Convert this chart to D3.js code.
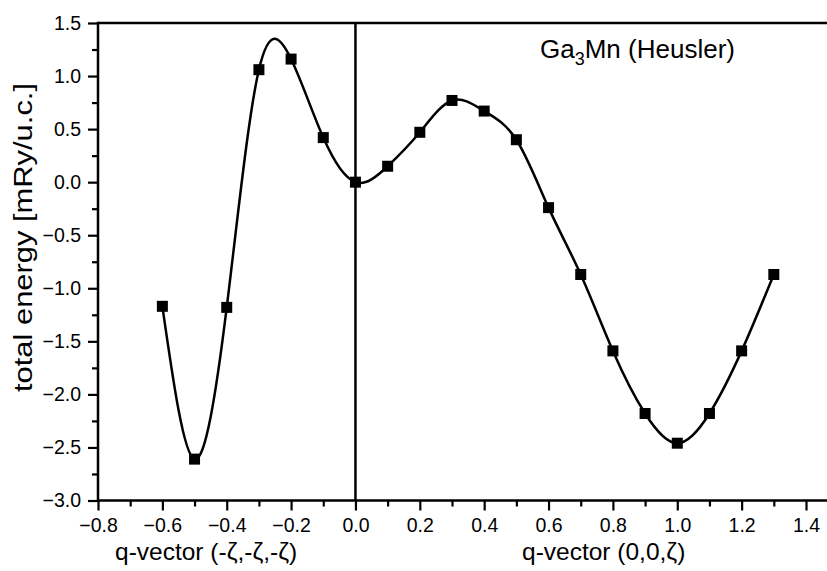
<!DOCTYPE html>
<html><head><meta charset="utf-8">
<script src="https://cdn.jsdelivr.net/npm/d3@7"></script>
<style>body{margin:0;background:#fff}svg{display:block}text{font-family:"Liberation Sans",Arial,sans-serif;fill:#000}</style>
</head><body>
<svg id="c" width="827" height="571"></svg>
<script>
const qValues = [-0.6,-0.5,-0.4,-0.3,-0.2,-0.1,0.0,0.1,0.2,0.3,0.4,0.5,0.6,0.7,0.8,0.9,1.0,1.1,1.2,1.3];
const energyValues = [-1.17,-2.61,-1.18,1.06,1.16,0.42,0.0,0.15,0.47,0.77,0.67,0.40,-0.24,-0.87,-1.59,-2.18,-2.46,-2.18,-1.59,-0.87];
const xTicks = [-0.8,-0.6,-0.4,-0.2,0.0,0.2,0.4,0.6,0.8,1.0,1.2,1.4];
const yTicks = [-3.0,-2.5,-2.0,-1.5,-1.0,-0.5,0.0,0.5,1.0,1.5];

const svg = d3.select("#c");
const L = 98, T = 23, B = 500.5;
const x = d3.scaleLinear().domain([-0.8, 1.4]).range([L, 806]);
const y = d3.scaleLinear().domain([-3.0, 1.5]).range([B, T]);
const xEnd = 827;
const FF = "Liberation Sans, Arial, sans-serif";

const g = svg.append("g");
const xMinor = d3.range(-0.7, 1.45, 0.2).map(v => +v.toFixed(2));
const yMinor = d3.range(-2.75, 1.5, 0.5).map(v => +v.toFixed(2));

const xAxis = d3.axisBottom(x).tickValues(xTicks).tickFormat(d3.format(".1f")).tickSize(10).tickPadding(8);
const xa = g.append("g").attr("transform", `translate(0,${B})`).call(xAxis);
xa.select(".domain").remove();
xa.selectAll("line").attr("stroke","#000").attr("stroke-width",2.2);
xa.selectAll("text").attr("font-size",19.5).attr("font-family",FF).attr("fill","#000");
const xm = g.append("g").attr("transform", `translate(0,${B})`).call(d3.axisBottom(x).tickValues(xMinor).tickSize(6).tickFormat(""));
xm.select(".domain").remove();
xm.selectAll("line").attr("stroke","#000").attr("stroke-width",2.2);

const yAxis = d3.axisLeft(y).tickValues(yTicks).tickFormat(d3.format(".1f")).tickSize(10).tickPadding(7);
const ya = g.append("g").attr("transform", `translate(${L},0)`).call(yAxis);
ya.select(".domain").remove();
ya.selectAll("line").attr("stroke","#000").attr("stroke-width",2.2);
ya.selectAll("text").attr("font-size",19.5).attr("font-family",FF).attr("fill","#000");
const ym = g.append("g").attr("transform", `translate(${L},0)`).call(d3.axisLeft(y).tickValues(yMinor).tickSize(6).tickFormat(""));
ym.select(".domain").remove();
ym.selectAll("line").attr("stroke","#000").attr("stroke-width",2.2);

g.append("line").attr("x1",L).attr("x2",xEnd).attr("y1",B).attr("y2",B).attr("stroke","#000").attr("stroke-width",2.5);
g.append("line").attr("x1",L).attr("x2",xEnd).attr("y1",T).attr("y2",T).attr("stroke","#000").attr("stroke-width",2.5);
g.append("line").attr("x1",L).attr("x2",L).attr("y1",T-1.2).attr("y2",B+1.2).attr("stroke","#000").attr("stroke-width",2.5);
g.append("line").attr("x1",x(0)).attr("x2",x(0)).attr("y1",T).attr("y2",B).attr("stroke","#000").attr("stroke-width",2.5);

const pts = qValues.map((q,i)=>[q, energyValues[i]]);
const line = d3.line().x(d=>x(d[0])).y(d=>y(d[1])).curve(d3.curveNatural);
g.append("path").attr("d", line(pts)).attr("fill","none").attr("stroke","#000").attr("stroke-width",2.5);

g.selectAll("rect.pt").data(pts).enter().append("rect").attr("class","pt")
  .attr("x", d=>x(d[0])-5.5).attr("y", d=>y(d[1])-5.5).attr("width",11).attr("height",11).attr("fill","#000");

svg.append("text").attr("transform","translate(32,237.5) rotate(-90)").attr("text-anchor","middle")
  .attr("font-size",25).attr("textLength",309).attr("lengthAdjust","spacingAndGlyphs").text("total energy [mRy/u.c.]");
svg.append("text").attr("x",115).attr("y",560).attr("font-size",24.5).text("q-vector (-ζ,-ζ,-ζ)");
svg.append("text").attr("x",522).attr("y",560).attr("font-size",24.5).text("q-vector (0,0,ζ)");
const t = svg.append("text").attr("x",540).attr("y",58).attr("font-size",26);
t.append("tspan").text("Ga");
t.append("tspan").attr("font-size",18).attr("dy",7).text("3");
t.append("tspan").attr("dy",-7).text("Mn (Heusler)");
</script>
</body></html>
